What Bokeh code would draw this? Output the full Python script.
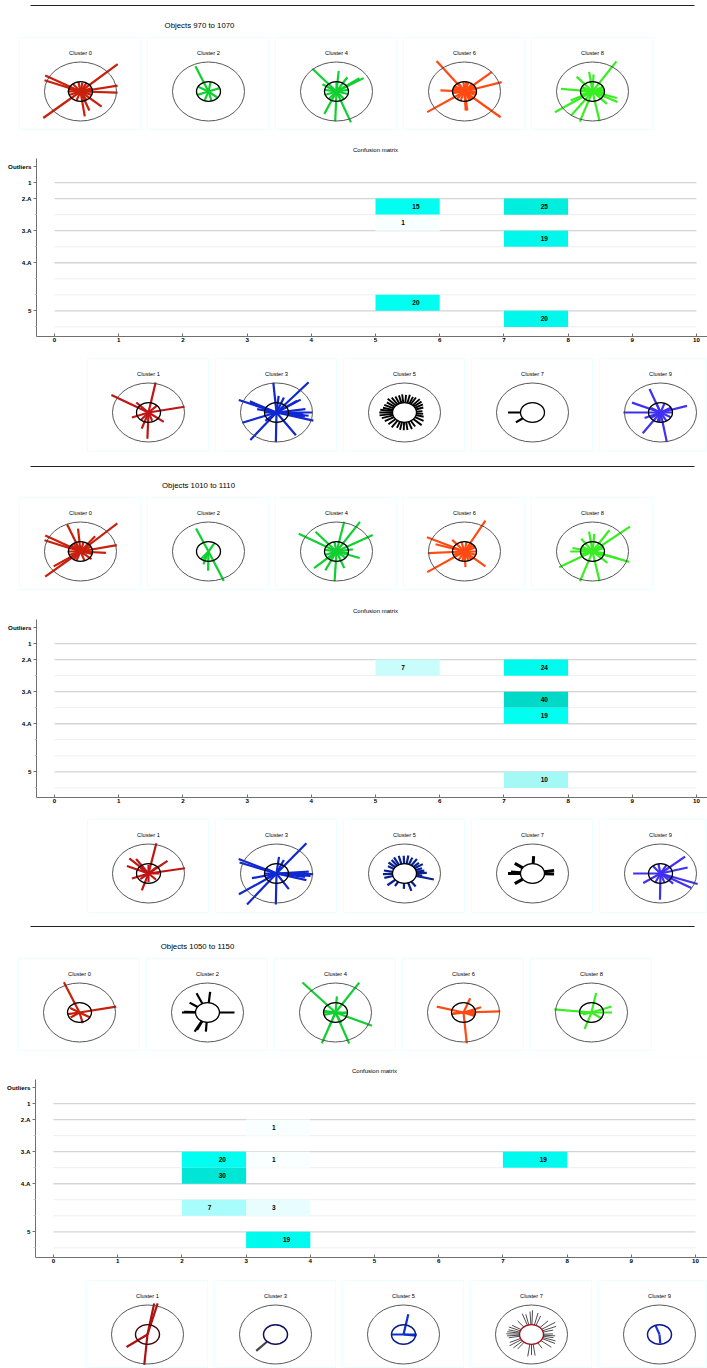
import numpy as np
from bokeh.embed import file_html
from bokeh.resources import INLINE
from bokeh.core.properties import value
from bokeh.layouts import column, row
from bokeh.models import Range1d, FixedTicker, Spacer, BoxAnnotation
from bokeh.plotting import figure

FONT = "Liberation Sans"
titles = ["Objects 970 to 1070", "Objects 1010 to 1110", "Objects 1050 to 1150"]
y_labels = {0: "Outliers", 1: "1", 2: "2.A", 4: "3.A", 6: "4.A", 9: "5"}
y_minor = [3, 5, 7, 8, 10]
x_ticks = list(range(11))

# confusion-matrix cells: column, row, count
s1_col = [5, 7, 5, 7, 5, 7]
s1_row = [2, 2, 3, 4, 8, 9]
s1_val = [15, 25, 1, 19, 20, 20]
s1_fill = ["#00fff0", "#00eedd", "#f8ffff", "#00f8ec", "#00fff0", "#00f8ec"]
s2_col = [5, 7, 7, 7, 7]
s2_row = [2, 2, 4, 5, 9]
s2_val = [7, 24, 40, 19, 10]
s2_fill = ["#c8fdfb", "#00fbee", "#00d8c8", "#00fff0", "#a4f8f6"]
s3_col = [3, 2, 3, 2, 2, 3, 3, 7]
s3_row = [2, 4, 4, 5, 7, 7, 9, 4]
s3_val = [1, 20, 1, 30, 7, 3, 19, 19]
s3_fill = ["#f9ffff", "#00fff0", "#f9ffff", "#00e6d6", "#a8fcfc", "#e8fdfd", "#00fbee", "#00fbee"]

# spikes of each cluster glyph: (angle in degrees, length)
s1c0 = [(42,1.39),(221,1.37),(151,1.12),(159,1.07),(11,1.05),(358,1.03),(319,.78),(291,.69),(278,.85),
        (20,.34),(60,.33),(100,.33),(130,.34),(180,.36),(200,.34),(250,.33),(300,.33),(340,.33),(5,.34),(80,.3),(165,.35)]
s1c2 = [(113,.93),(20,.33),(80,.33),(150,.33),(200,.33),(250,.33),(285,.33),(320,.33)]
s1c4 = [(131,1.02),(85,.7),(58,.57),(148,.46),(268,1.01),(291,1.12),(246,.83),(31,.88),(35,.78),
        (10,.33),(90,.33),(170,.33),(200,.35),(230,.33),(310,.33),(345,.33)]
s1c6 = [(127,1.29),(41,1.01),(17,1.08),(177,.67),(214,1.25),(319,1.33),(273,.65),(277,.65),
        (0,.33),(25,.33),(50,.33),(70,.33),(95,.33),(120,.33),(145,.33),(165,.33),(190,.33),(230,.33),(250,.33),(295,.33),(340,.33),(355,.33),
        (35,.33),(82,.33),(155,.33),(305,.33)]
s1c8 = [(57,1.22),(174,.88),(131,.67),(98,.67),(87,.58),(214,1.26),(234,1.01),(251,1.08),(281,1.03),(333,.78),(342,.71),(314,.58),(207,.68),
        (20,.33),(30,.34),(150,.33),(160,.34),(200,.33),(210,.34),(330,.34),(340,.33),(5,.33),(352,.33),(180,.33)]
s1c1 = [(79,1.04),(150,1.19),(11,1.02),(268,.89),(251,.58),(323,.53),(200,.49),(135,.48),(45,.33),(230,.33),(290,.3)]
s1c3 = [(49,1.36),(95,1.02),(158,1.13),(153,.83),(168,.55),(200,1.01),(232,1.18),(222,.42),(269,1.0),(305,.94),(0,.99),(345,1.06),
        (33,.8),(35,.7),(84,.57),(68,.55),(353,.9),(8,.81),(180,.33),(350,.8),(355,.75)]
s1c5 = [(5,.5),(18,.55),(28,.58),(38,.6),(47,.62),(58,.6),(66,.58),(76,.62),(86,.6),(96,.62),(105,.6),(115,.6),(125,.62),(135,.66),(145,.6),
        (155,.62),(165,.62),(172,.68),(180,.7),(188,.7),(197,.66),(208,.62),(222,.6),(235,.62),(248,.56),(258,.6),(268,.6),(278,.6),(290,.6),
        (302,.56),(318,.64),(332,.6),(345,.55),(355,.52)]
s1c7 = [(180,.68),(216,.57)]
s1c9 = [(111,.85),(157,.86),(180,1.03),(235,.86),(280,1.02),(17,.77),(203,.48),
        (30,.33),(70,.33),(110,.33),(150,.3),(215,.33),(255,.33),(300,.33),(330,.33),(0,.33),(265,.33)]

s2c0 = [(43,1.4),(221,1.3),(151,1.12),(159,1.07),(112,1.0),(95,.78),(12,1.03),(356,.71),(214,.9),(52,.66),(320,.4),
        (30,.33),(75,.33),(140,.34),(180,.36),(200,.34),(250,.33),(290,.33),(345,.33),(125,.33),(235,.33)]
s2c2 = [(114,.85),(293,1.09),(252,.46),(269,.65),(60,.33),(230,.33),(245,.33)]
s2c4 = [(150,1.21),(131,.89),(222,.84),(244,.71),(267,1.01),(78,1.03),(57,1.2),(29,1.15),(341,.68),(9,.46),(291,.6),
        (100,.33),(170,.33),(200,.33),(230,.33),(320,.33),(350,.33)]
s2c6 = [(61,1.2),(155,1.15),(183,1.02),(214,1.25),(319,.77),(163,.84),(273,.53),(131,.52),
        (0,.33),(25,.33),(50,.33),(80,.33),(105,.33),(200,.33),(240,.33),(260,.33),(290,.33),(340,.33),(38,.33),(305,.33)]
s2c8 = [(39,1.34),(210,1.07),(98,.68),(85,.6),(57,.86),(126,.53),(180,.62),(251,1.07),(281,1.03),(341,1.08),(342,.72),(317,.57),(168,.57),
        (25,.33),(150,.33),(205,.33),(335,.33),(165,.33),(20,.33),(195,.33),(350,.33)]
s2c1 = [(78,1.05),(136,.74),(10,1.03),(252,.6),(39,.68),(200,.49),(125,.6),(157,.65),
        (0,.3),(90,.3),(140,.3),(220,.3),(270,.3),(315,.3),(45,.3)]
s2c3 = [(51,1.32),(155,1.16),(160,1.09),(214,1.26),(232,1.33),(269,1.05),(359,1.02),(345,.86),(303,.63),(83,.57),(66,.5),(193,.7),(4,.9),(352,.8),(355,.95),
        (180,.33),(150,.33),(210,.33)]
s2c5 = [(346,.84),(20,.52),(32,.6),(42,.54),(55,.6),(68,.58),(80,.62),(92,.6),(105,.62),(118,.62),(128,.58),(140,.58),(152,.52),(170,.58),
        (182,.6),(195,.58),(220,.62),(238,.5),(268,.52),(288,.62),(305,.54),(2,.62),(10,.56),(352,.5)]
s2c7 = [(87,.59),(145,.6),(180,.68),(215,.6),(10,.61),(358,.6),(175,.6)]
s2c9 = [(40,.89),(15,.78),(180,.76),(214,.58),(269,.89),(341,1.09),(330,.99),(316,.49),
        (60,.33),(100,.33),(130,.33),(245,.33),(290,.33)]

s3c0 = [(113,1.11),(11,1.04),(284,.37),(190,.33),(150,.3),(330,.33),(215,.3)]
s3c2 = [(180,.71),(115,.72),(84,.7),(146,.6),(241,.74),(266,.65),(0,.75),(178,.65),(244,.66)]
s3c4 = [(132,1.37),(250,1.11),(57,1.21),(86,.55),(336,1.11),(290,1.12),(294,.39),(250,.5),(180,.33),(0,.33),(195,.33),(170,.33),(355,.3)]
s3c6 = [(165,.77),(2,1.02),(275,1.05),(69,.52),(20,.52),(190,.33),(340,.33),(350,.33),(185,.3),(10,.3)]
s3c8 = [(174,1.04),(79,.67),(20,.59),(0,.57),(251,.59),(324,.33),(185,.33),(195,.25)]
s3c1 = [(75,1.09),(80,1.07),(265,1.03),(216,.72)]
s3c3 = [(226,.77)]
s3c5 = [(79,.7),(0,.37),(180,.33),(354,.36)]
s3c7 = [(2,.6),(14,.62),(22,.74),(32,.78),(45,.65),(68,.68),(76,.75),(88,.82),(93,.78),(103,.7),(110,.75),(130,.6),(150,.62),(158,.68),
        (166,.66),(172,.68),(178,.7),(184,.68),(190,.64),(204,.66),(212,.72),(222,.68),(232,.62),(262,.75),(270,.7),(278,.72),(302,.55),(322,.7),
        (335,.72),(342,.7),(350,.62),(356,.66)]
s3c9 = [(110,.31),(274,.3)]

RED, GREEN, LIME, ORANGE, BLUE, VIOLET, BLACK = "#c8200c", "#10d030", "#38ee22", "#ff4a12", "#1028d0", "#4030f0", "#000000"

top_ids = [0, 2, 4, 6, 8]
bot_ids = [1, 3, 5, 7, 9]


def glyph(name, spikes, color, width=2.2, h=93, w=122, start=0.0, ring="#000000", ring_w=1.3):
    cx, cy, rx, ry = 61, 54, 36, 29.5
    p = figure(width=w, height=h, x_axis_type=None, y_axis_type=None, toolbar_location=None,
               output_backend="svg", min_border=0,
               x_range=Range1d(-cx / rx, (w - cx) / rx), y_range=Range1d(-(h - cy) / ry, cy / ry))
    p.grid.visible = False
    p.outline_line_color = "#ebffff"
    p.outline_line_width = 1
    a = np.radians([s[0] for s in spikes])
    r = np.array([s[1] for s in spikes])
    p.segment(start * np.cos(a), start * np.sin(a), r * np.cos(a), r * np.sin(a),
              line_color=color, line_width=width, line_cap="butt")
    p.ellipse(x=0, y=0, width=2, height=2, fill_color=None, line_color="#444444", line_width=0.9)
    p.ellipse(x=0, y=0, width=2 / 3, height=2 / 3, fill_color=None, line_color=ring, line_width=ring_w)
    p.text(x=[0], y=[(cy - 15) / ry], text=[name], text_font=value(FONT), text_font_size="5.7px",
           text_align="center", text_baseline="middle", text_color="#000000")
    return p


def matrix(cols, rows_, vals, fills, panel_x):
    W, H, bottom = 707, 205, 11
    left = panel_x + 26
    unit = 64.2
    x0 = (panel_x + 44) - left
    p = figure(width=W, height=H, toolbar_location=None, output_backend="svg",
               min_border_left=left, min_border_right=0, min_border_top=0, min_border_bottom=bottom,
               x_range=Range1d(-x0 / unit, (W - left - x0) / unit), y_range=Range1d(10.6, -1.5))
    p.grid.visible = False
    p.outline_line_color = None
    p.add_layout(BoxAnnotation(left=panel_x, right=W, top=0, bottom=H, left_units="canvas", right_units="canvas",
                               top_units="canvas", bottom_units="canvas", fill_color=None,
                               line_color="#ebffff", line_width=1))
    maj = list(y_labels)
    p.segment(x0=0, x1=10, y0=y_minor, y1=y_minor, line_color="#eeeeee", line_width=1)
    p.segment(x0=0, x1=10, y0=maj[1:], y1=maj[1:], line_color="#d4d4d4", line_width=1.3)
    cx = np.array(cols)
    ry = np.array(rows_)
    p.quad(left=cx, right=cx + 1, top=ry, bottom=ry + 1, fill_color=fills, line_color=None)
    tx = [c + (0.63 if v >= 10 else 0.43) for c, v in zip(cols, vals)]
    p.text(x=tx, y=ry + 0.5, text=[str(v) for v in vals], text_font=value(FONT), text_font_size="6.5px",
           text_font_style="bold", text_align="center", text_baseline="middle", text_color="#000000")
    p.text(x=[(375 - 54) / unit], y=[-1.06], text=["Confusion matrix"], text_font=value(FONT), text_font_size="6px",
           text_align="center", text_baseline="middle", text_color="#000000")
    xa = p.xaxis[0]
    xa.ticker = FixedTicker(ticks=x_ticks)
    xa.major_tick_in, xa.major_tick_out, xa.minor_tick_in, xa.minor_tick_out = 3, 0, 0, 0
    xa.major_label_standoff = 1
    ya = p.yaxis[0]
    ya.ticker = FixedTicker(ticks=maj, minor_ticks=y_minor)
    ya.bounds = (-0.5, 10.6)
    ya.major_label_overrides = {k: v for k, v in y_labels.items()}
    ya.major_tick_in, ya.major_tick_out, ya.minor_tick_in, ya.minor_tick_out = 0, 3, 0, 2
    ya.major_label_standoff = 2
    for ax in (xa, ya):
        ax.axis_line_color = "#707070"
        ax.major_tick_line_color = "#707070"
        ax.minor_tick_line_color = "#cccccc"
        ax.major_label_text_font = FONT
        ax.major_label_text_font_size = "6.2px"
        ax.major_label_text_font_style = "bold"
        ax.major_label_text_color = "#000000"
    return p


def header(title, h, line_y, title_y, x_title):
    p = figure(width=707, height=h, x_axis_type=None, y_axis_type=None, toolbar_location=None,
               output_backend="svg", min_border=0, x_range=Range1d(0, 707), y_range=Range1d(h, 0))
    p.grid.visible = False
    p.outline_line_color = None
    p.segment(x0=[30], x1=[694], y0=[line_y], y1=[line_y], line_color="#222222", line_width=1)
    p.text(x=[x_title], y=[title_y], text=[title], text_font=value(FONT), text_font_size="7.8px",
           text_align="center", text_baseline="middle", text_color="#000000")
    return p


def glyph_row(x_first, figs, h):
    kids = [Spacer(width=x_first, height=h)]
    for i, f in enumerate(figs):
        if i:
            kids.append(Spacer(width=6, height=h))
        kids.append(f)
    return row(*kids, spacing=0)


def section(title, head_h, line_y, title_y, x_title, tops, bots, matrix_data, gap1, gap2, x_top, x_bot, conf_x, bot_h=94):
    t = [glyph(f"Cluster {i}", *s[:2], **(s[2] if len(s) > 2 else {})) for i, s in zip(top_ids, tops)]
    b = []
    for k, (i, s) in enumerate(zip(bot_ids, bots)):
        kw = dict(s[2]) if len(s) > 2 else {}
        kw["h"] = bot_h
        if k == 4:
            kw["w"] = 707 - (x_bot + 4 * 128)
        b.append(glyph(f"Cluster {i}", s[0], s[1], **kw))
    return [row(header(title, head_h, line_y, title_y, x_title), spacing=0),
            glyph_row(x_top, t, 93), Spacer(width=10, height=gap1),
            row(matrix(*matrix_data, conf_x), spacing=0), Spacer(width=10, height=gap2),
            glyph_row(x_bot, b, bot_h)]


inner = {"start": 0.33}
blocks = []
blocks += section(titles[0], 37, 5, 25, 199,
                  [(s1c0, RED), (s1c2, GREEN), (s1c4, GREEN), (s1c6, ORANGE), (s1c8, LIME)],
                  [(s1c1, "#c01515"), (s1c3, BLUE), (s1c5, BLACK, dict(start=0.33, width=1.9)), (s1c7, BLACK, inner), (s1c9, VIOLET)],
                  (s1_col, s1_row, s1_val, s1_fill), 12, 11, 19, 87, 10)
blocks += section(titles[1], 45, 14, 33, 198,
                  [(s2c0, RED), (s2c2, GREEN), (s2c4, GREEN), (s2c6, ORANGE), (s2c8, LIME)],
                  [(s2c1, "#c01515"), (s2c3, BLUE), (s2c5, "#0a2090", inner), (s2c7, BLACK, dict(start=0.33, width=3)), (s2c9, VIOLET)],
                  (s2_col, s2_row, s2_val, s2_fill), 13, 11, 19, 87, 10)
blocks += section(titles[2], 45, 13, 33, 197,
                  [(s3c0, RED), (s3c2, BLACK, inner), (s3c4, GREEN), (s3c6, ORANGE), (s3c8, LIME)],
                  [(s3c1, "#b01010", dict(ring="#3a0505", ring_w=1.4)), (s3c3, "#444444", dict(start=0.33, ring="#101060", ring_w=1.5)),
                   (s3c5, "#1030c8", dict(ring="#0a2080", ring_w=1.5)), (s3c7, BLACK, dict(start=0.33, width=0.7, ring="#a01020", ring_w=1.4)),
                   (s3c9, "#2030e0", dict(ring="#101890", ring_w=1.5))],
                  (s3_col, s3_row, s3_val, s3_fill), 12, 12, 18, 86, 9, bot_h=88)

page = column(*blocks, spacing=0, margin=(0, 0, 0, 0))
open("out.html", "w").write(file_html(page, INLINE))
